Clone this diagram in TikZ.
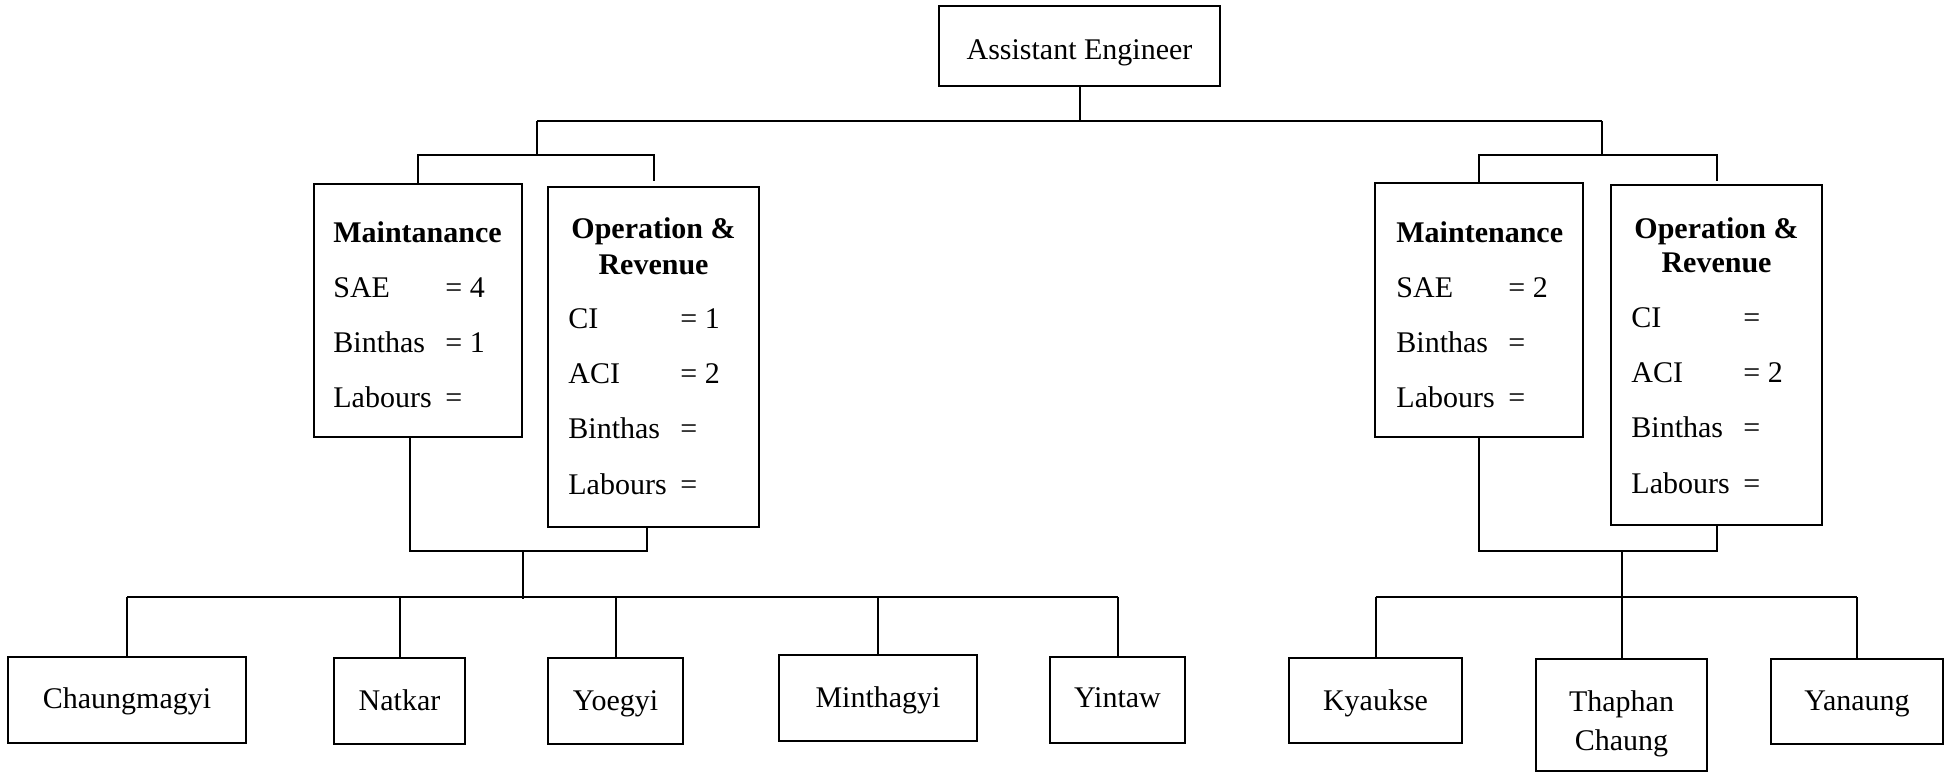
\documentclass[tikz,border=0pt]{standalone}
\usepackage{fontspec}
\setmainfont{Liberation Serif}
\usetikzlibrary{calc}

\tikzset{
  wire/.style={line width=1pt},
  box/.style={draw, line width=1pt, inner sep=0pt},
  rect/.style n args={4}{minimum width={(#3-#1)*0.5pt}, minimum height={(#4-#2)*0.5pt},
    at={({(#1+#3)/2},{(#2+#4)/2})}},
  txt/.style={font=\fontsize{15}{18}\selectfont, inner sep=0pt},
  head/.style={font=\fontsize{15}{18}\selectfont\bfseries, inner sep=0pt},
}

% one "post = count" line inside a staff box
\newcommand\staffline[5]{\node[txt, anchor=base west] (#1) at (#2,#3) {\makebox[56pt][l]{#4}#5};}

\begin{document}
\begin{tikzpicture}[x=0.5pt, y=-0.5pt]
\useasboundingbox (0,0) rectangle (1952,772);

% ---- boxes ----
\node[box, rect={939}{6}{1220}{86}]    (ae) {};
\node[box, rect={314}{184}{522}{437}]  (lm) {};
\node[box, rect={548}{187}{759}{527}]  (lo) {};
\node[box, rect={1375}{183}{1583}{437}] (rm) {};
\node[box, rect={1611}{185}{1822}{525}] (ro) {};

\node[box, rect={8}{657}{246}{743}]     (chaung) {};
\node[box, rect={334}{658}{465}{744}]   (natkar) {};
\node[box, rect={548}{658}{683}{744}]   (yoegyi) {};
\node[box, rect={779}{655}{977}{741}]   (minthagyi) {};
\node[box, rect={1050}{657}{1185}{743}] (yintaw) {};
\node[box, rect={1289}{658}{1462}{743}] (kyaukse) {};
\node[box, rect={1536}{659}{1707}{771}] (thaphan) {};
\node[box, rect={1771}{659}{1943}{744}] (yanaung) {};

% ---- texts ----
\node[txt, anchor=base] (aeT) at (1079.5,59) {Assistant Engineer};

\node[head, anchor=base west] (lmH) at (333,242) {Maintanance};
\staffline{lm1}{333}{297}{SAE}{= 4}
\staffline{lm2}{333}{352}{Binthas}{= 1}
\staffline{lm3}{333}{407}{Labours}{=}

\node[head, anchor=base] (loH1) at (653.5,238) {Operation \&};
\node[head, anchor=base] (loH2) at (653.5,274) {Revenue};
\staffline{lo1}{568}{328}{CI}{= 1}
\staffline{lo2}{568}{383}{ACI}{= 2}
\staffline{lo3}{568}{438}{Binthas}{=}
\staffline{lo4}{568}{494}{Labours}{=}

\node[head, anchor=base west] (rmH) at (1396,242) {Maintenance};
\staffline{rm1}{1396}{297}{SAE}{= 2}
\staffline{rm2}{1396}{352}{Binthas}{=}
\staffline{rm3}{1396}{407}{Labours}{=}

\node[head, anchor=base] (roH1) at (1716.5,238) {Operation \&};
\node[head, anchor=base] (roH2) at (1716.5,272) {Revenue};
\staffline{ro1}{1631}{327}{CI}{=}
\staffline{ro2}{1631}{382}{ACI}{= 2}
\staffline{ro3}{1631}{437}{Binthas}{=}
\staffline{ro4}{1631}{493}{Labours}{=}

\node[txt, anchor=base] (chaungT)    at (127,708)    {Chaungmagyi};
\node[txt, anchor=base] (natkarT)    at (399.5,710)  {Natkar};
\node[txt, anchor=base] (yoegyiT)    at (615.5,710)  {Yoegyi};
\node[txt, anchor=base] (minthagyiT) at (878,707)    {Minthagyi};
\node[txt, anchor=base] (yintawT)    at (1117.5,707) {Yintaw};
\node[txt, anchor=base] (kyaukseT)   at (1375.5,710) {Kyaukse};
\node[txt, anchor=base] (thaphanT1)  at (1621.5,711) {Thaphan};
\node[txt, anchor=base] (thaphanT2)  at (1621.5,750) {Chaung};
\node[txt, anchor=base] (yanaungT)   at (1857,710)   {Yanaung};

% ---- bus levels and branch points ----
\coordinate (busA) at (0,121);
\coordinate (busB) at (0,155);
\coordinate (busC) at (0,551);
\coordinate (busD) at (0,597);
\coordinate (lhub) at (537,155);
\coordinate (rhub) at (1602,155);

% ---- connectors ----
\draw[wire] (ae.south) -- (ae.south |- busA);
\draw[wire] (lhub |- busA) -- (rhub |- busA);
\draw[wire] (lhub |- busA) -- (lhub);
\draw[wire] (rhub |- busA) -- (rhub);

\draw[wire] (lm.north) -- (lm.north |- busB) -- (lo.north |- busB) -- ($(lo.north)+(0,-5)$);
\draw[wire] (rm.north) -- (rm.north |- busB) -- (ro.north |- busB) -- ($(ro.north)+(0,-3)$);

% left district
\coordinate (lmB) at ($(lm.south)+(-8,0)$);
\coordinate (loB) at ($(lo.south)+(-6.5,0)$);
\draw[wire] (lmB) -- (lmB |- busC) -- (loB |- busC) -- (loB);
\coordinate (lfeed) at (523,551);
\draw[wire] (lfeed) -- ($(lfeed |- busD)+(0,2)$);
\draw[wire] (chaung.north |- busD) -- (yintaw.north |- busD);
\foreach \n in {chaung,natkar,yoegyi,minthagyi,yintaw}
  \draw[wire] (\n.north |- busD) -- (\n.north);

% right district
\draw[wire] (rm.south) -- (rm.south |- busC) -- (ro.south |- busC) -- (ro.south);
\draw[wire] (thaphan.north |- busC) -- (thaphan.north);
\draw[wire] (kyaukse.north |- busD) -- (yanaung.north |- busD);
\foreach \n in {kyaukse,yanaung}
  \draw[wire] (\n.north |- busD) -- (\n.north);

\end{tikzpicture}
\end{document}
